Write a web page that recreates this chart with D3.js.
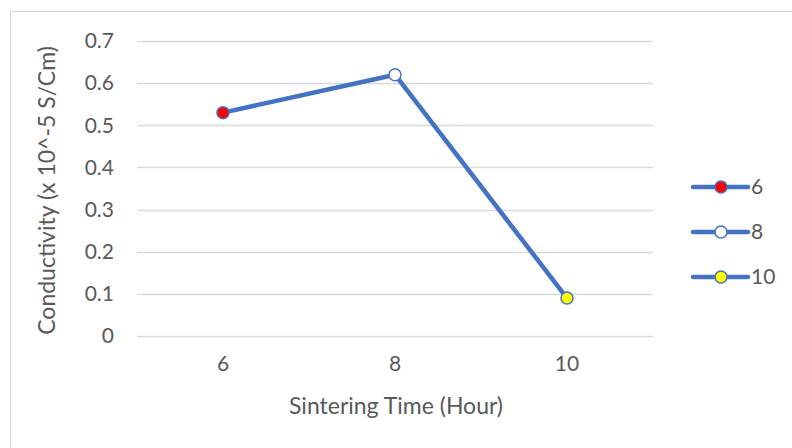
<!doctype html>
<html>
<head>
<meta charset="utf-8">
<style>
	body { margin: 0; background: #fff; }
	svg text { font-family: Lato, "Open Sans", sans-serif; fill: #595959; }
</style>
</head>
<body>
	<div class="chart"></div>
	<script src="https://d3js.org/d3.v7.min.js"></script>
	<script>
		// данные
		let categories = ["6", "8", "10"];
		let values = [0.53, 0.62, 0.09];
		let markerColors = ["#ff0000", "#ffffff", "#ffff00"];
		let yTicks = [0, 0.1, 0.2, 0.3, 0.4, 0.5, 0.6, 0.7];

		let width = 792, height = 448;
		let plotLeft = 137, plotRight = 653, plotTop = 41, plotBottom = 336;
		let blue = "#4472c4";

		let svg = d3.select(".chart").append("svg")
			.attr("width", width)
			.attr("height", height);

		// рамка области диаграммы
		svg.append("rect")
			.attr("x", 10.5).attr("y", 11.5)
			.attr("width", 800).attr("height", 460)
			.attr("fill", "#fff")
			.attr("stroke", "#d9d9d9");

		let scaleX = d3.scaleBand()
			.domain(categories)
			.range([plotLeft, plotRight]);

		let scaleY = d3.scaleLinear()
			.domain([0, 0.7])
			.range([plotBottom, plotTop]);

		// сетка
		svg.append("g").selectAll("line")
			.data(yTicks)
			.join("line")
			.attr("x1", plotLeft).attr("x2", plotRight)
			.attr("y1", d => Math.round(scaleY(d)) + 0.5)
			.attr("y2", d => Math.round(scaleY(d)) + 0.5)
			.attr("stroke", "#d9d9d9")
			.attr("stroke-width", 1.5);

		// подписи оси Y
		let yAxis = d3.axisLeft(scaleY).tickValues(yTicks)
			.tickFormat(d => d === 0 ? "0" : d3.format(".1f")(d))
			.tickSize(0).tickPadding(23);
		let gy = svg.append("g")
			.attr("transform", "translate(" + plotLeft + ",0)")
			.call(yAxis)
			.attr("font-size", 21)
			.attr("font-family", "Lato, sans-serif");
		gy.select(".domain").remove();
		gy.selectAll("text").attr("fill", "#595959");

		// подписи оси X
		let xAxis = d3.axisBottom(scaleX).tickSize(0).tickPadding(20);
		let gx = svg.append("g")
			.attr("transform", "translate(0," + plotBottom + ")")
			.call(xAxis)
			.attr("font-size", 21)
			.attr("font-family", "Lato, sans-serif");
		gx.select(".domain").remove();
		gx.selectAll("text").attr("fill", "#595959");

		// названия осей
		svg.append("text")
			.attr("x", (plotLeft + plotRight) / 2 + 1).attr("y", 414)
			.attr("text-anchor", "middle")
			.style("font-size", "23px")
			.text("Sintering Time (Hour)");

		svg.append("text")
			.attr("transform", "translate(55," + ((plotTop + plotBottom) / 2 + 2) + ") rotate(-90)")
			.attr("text-anchor", "middle")
			.style("font-size", "23px")
			.text("Conductivity (x 10^-5 S/Cm)");

		// линия
		let points = categories.map((c, i) => ({ c: c, v: values[i], color: markerColors[i] }));
		let lineF = d3.line()
			.x(d => scaleX(d.c) + scaleX.bandwidth() / 2)
			.y(d => scaleY(d.v));

		svg.append("path")
			.attr("d", lineF(points))
			.attr("fill", "none")
			.attr("stroke", blue)
			.attr("stroke-width", 4.5)
			.attr("stroke-linejoin", "round");

		svg.append("g").selectAll("circle")
			.data(points)
			.join("circle")
			.attr("cx", d => scaleX(d.c) + scaleX.bandwidth() / 2)
			.attr("cy", d => scaleY(d.v))
			.attr("r", 6)
			.attr("fill", d => d.color)
			.attr("stroke", blue)
			.attr("stroke-width", 1.5);

		// легенда
		let legend = svg.append("g").selectAll("g")
			.data(points)
			.join("g")
			.attr("transform", (d, i) => "translate(693," + (187 + i * 45) + ")");

		legend.append("line")
			.attr("x1", 0).attr("x2", 55)
			.attr("stroke", blue)
			.attr("stroke-width", 4.5)
			.attr("stroke-linecap", "round");

		legend.append("circle")
			.attr("cx", 28).attr("r", 6)
			.attr("fill", d => d.color)
			.attr("stroke", blue)
			.attr("stroke-width", 1.5);

		legend.append("text")
			.attr("x", 58).attr("dy", "0.35em")
			.style("font-size", "21px")
			.text(d => d.c);
	</script>
</body>
</html>
